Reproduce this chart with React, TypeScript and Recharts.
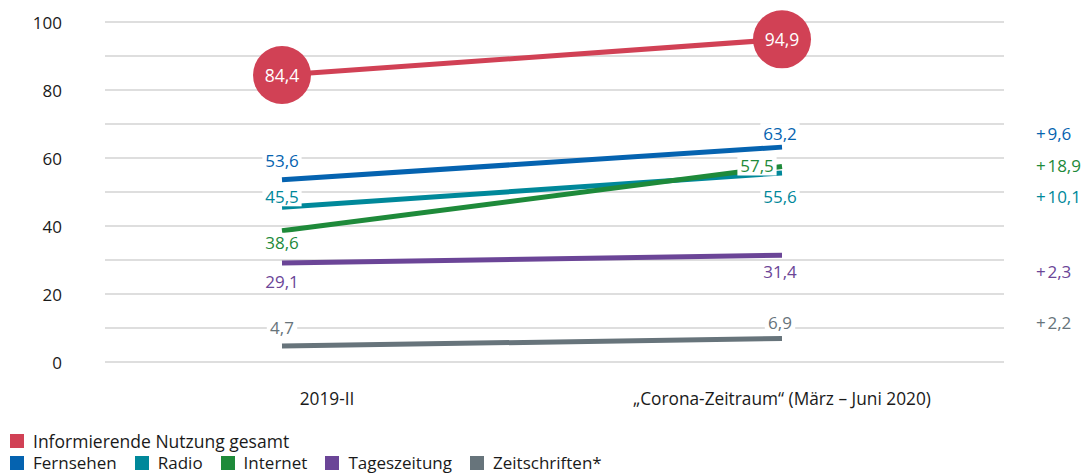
import React from "react";
import { LineChart, Line, XAxis, YAxis, CartesianGrid, LabelList } from "recharts";

const periods = ["2019-II", "„Corona-Zeitraum“ (März – Juni 2020)"];
const gesamt = [84.4, 94.9];
const fernsehen = [53.6, 63.2];
const radio = [45.5, 55.6];
const internet = [38.6, 57.5];
const tageszeitung = [29.1, 31.4];
const zeitschriften = [4.7, 6.9];
const yTicks = [0, 10, 20, 30, 40, 50, 60, 70, 80, 90, 100];

const FONT = "'Open Sans', sans-serif";
const PLOT_RIGHT = 1004;

const data = periods.map((p, i) => ({
  x: i,
  period: p,
  gesamt: gesamt[i],
  fernsehen: fernsehen[i],
  radio: radio[i],
  internet: internet[i],
  tageszeitung: tageszeitung[i],
  zeitschriften: zeitschriften[i],
}));

const fmt = (v: number) => v.toFixed(1).replace(".", ",");

// label offsets for [first, last] point, relative to the point
type Off = { dx: number; dy: number };

function makeLabel(color: string, offs: Off[], values: number[]) {
  return (props: any) => {
    const { x, y, value, index } = props;
    const o = offs[index];
    const txt = fmt(Number(value));
    const w = txt.length * 8.8 + 4;
    const cx = x + o.dx;
    const cy = y + o.dy;
    const diff = "+\u200A" + fmt(values[1] - values[0]);
    return (
      <g>
        <rect x={cx - w / 2} y={cy - 10} width={w} height={20} fill="#fff" />
        <text x={cx} y={cy} fill={color} fontSize={17} fontFamily={FONT} textAnchor="middle" dominantBaseline="central">
          {txt}
        </text>
        {index === 1 && (
          <text x={PLOT_RIGHT + 32} y={cy} fill={color} fontSize={17} fontFamily={FONT} textAnchor="start" dominantBaseline="central">
            {diff}
          </text>
        )}
      </g>
    );
  };
}

const BigDot = (props: any) => {
  const { cx, cy, value } = props;
  return (
    <g>
      <circle cx={cx} cy={cy} r={29} fill="#d14155" />
      <text x={cx} y={cy} fill="#fff" fontSize={17.5} fontFamily={FONT} textAnchor="middle" dominantBaseline="central">
        {fmt(Number(value))}
      </text>
    </g>
  );
};

const YTick = (props: any) => {
  const { x, y, payload } = props;
  if (payload.value % 20 !== 0) return <g />;
  return (
    <text x={x} y={y} fill="#1a1a1a" fontSize={17} fontFamily={FONT} textAnchor="end" dominantBaseline="central">
      {payload.value}
    </text>
  );
};

const XTick = (props: any) => {
  const { x, y, payload } = props;
  const shift = payload.value === 0 ? 45 : 0;
  return (
    <text x={x + shift} y={y + 28} fill="#1a1a1a" fontSize={17.3} fontFamily={FONT} textAnchor="middle" dominantBaseline="central">
      {periods[payload.value]}
    </text>
  );
};

const legendRow1 = [{ name: "Informierende Nutzung gesamt", color: "#d14155" }];
const legendRow2 = [
  { name: "Fernsehen", color: "#0563b0" },
  { name: "Radio", color: "#00889a" },
  { name: "Internet", color: "#1e8a3a" },
  { name: "Tageszeitung", color: "#6b4597" },
  { name: "Zeitschriften*", color: "#67747b" },
];

const LegendItem = ({ name, color }: { name: string; color: string }) => (
  <div style={{ display: "flex", alignItems: "center", marginRight: 18 }}>
    <div style={{ width: 14, height: 14, background: color, marginRight: 9 }} />
    <span>{name}</span>
  </div>
);

export default function App() {
  const lineProps = { type: "linear" as const, strokeWidth: 5, dot: false, activeDot: false, isAnimationActive: false };
  return (
    <div style={{ position: "absolute", left: 0, top: 0, width: 1085, height: 473, background: "#fff", fontFamily: FONT }}>
      <LineChart width={1085} height={473} data={data} margin={{ top: 22, right: 81, left: 0, bottom: 71 }}>
        <CartesianGrid horizontal vertical={false} stroke="#d3d3d3" strokeWidth={1.5} />
        <XAxis
          dataKey="x"
          type="number"
          domain={[-0.354, 1.444]}
          ticks={[0, 1]}
          tick={<XTick />}
          axisLine={false}
          tickLine={false}
          height={40}
        />
        <YAxis
          type="number"
          domain={[0, 100]}
          ticks={yTicks}
          tick={<YTick />}
          axisLine={false}
          tickLine={false}
          tickSize={41}
          tickMargin={2}
          width={105}
          interval={0}
        />
        <Line {...lineProps} dataKey="zeitschriften" stroke="#67747b">
          <LabelList dataKey="zeitschriften" content={makeLabel("#67747b", [{ dx: 0, dy: -19 }, { dx: -2, dy: -16 }], zeitschriften)} />
        </Line>
        <Line {...lineProps} dataKey="tageszeitung" stroke="#6b4597">
          <LabelList dataKey="tageszeitung" content={makeLabel("#6b4597", [{ dx: 0, dy: 18 }, { dx: -2, dy: 16 }], tageszeitung)} />
        </Line>
        <Line {...lineProps} dataKey="radio" stroke="#00889a">
          <LabelList dataKey="radio" content={makeLabel("#00889a", [{ dx: 0, dy: -11 }, { dx: -2, dy: 24 }], radio)} />
        </Line>
        <Line {...lineProps} dataKey="internet" stroke="#1e8a3a">
          <LabelList dataKey="internet" content={makeLabel("#1e8a3a", [{ dx: 0, dy: 12 }, { dx: -25, dy: -1 }], internet)} />
        </Line>
        <Line {...lineProps} dataKey="fernsehen" stroke="#0563b0">
          <LabelList dataKey="fernsehen" content={makeLabel("#0563b0", [{ dx: 0, dy: -19 }, { dx: -2, dy: -14 }], fernsehen)} />
        </Line>
        <Line {...lineProps} dataKey="gesamt" stroke="#d14155" dot={<BigDot />} />
      </LineChart>
      <div style={{ position: "absolute", left: 10, top: 430, fontSize: 17, color: "#1a1a1a", lineHeight: "22px" }}>
        <div style={{ display: "flex" }}>
          <div style={{ fontSize: 17.5, display: "flex" }}>
            {legendRow1.map((l) => (
              <LegendItem key={l.name} {...l} />
            ))}
          </div>
        </div>
        <div style={{ display: "flex", marginTop: 0 }}>
          {legendRow2.map((l) => (
            <LegendItem key={l.name} {...l} />
          ))}
        </div>
      </div>
    </div>
  );
}
